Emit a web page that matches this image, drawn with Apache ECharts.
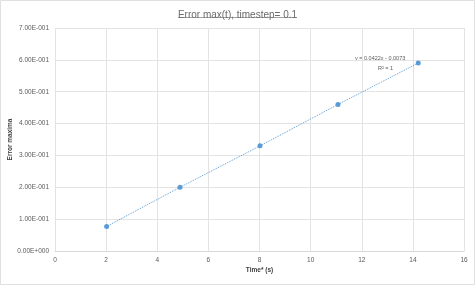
<!DOCTYPE html>
<html><head><meta charset="utf-8">
<script src="https://cdn.jsdelivr.net/npm/echarts@6/dist/echarts.min.js"></script>
<style>html,body{margin:0;padding:0;background:#fff}#c{width:475px;height:285px}</style>
</head><body><div id="c"></div>
<script>
var timeValues = [2.02, 4.89, 8.02, 11.07, 14.21];
var errorValues = [0.077, 0.200, 0.330, 0.460, 0.590];
var titleText = 'Error max(t), timestep= 0.1';
var xName = 'Time* (s)';
var yName = 'Error maxima';
var trendLines = ['y = 0.0422x - 0.0073', 'R\u00b2 = 1'];

function sci(v){
  var s = Number(v).toExponential(2);
  var m = s.split('e');
  var exp = parseInt(m[1],10);
  var sign = exp < 0 ? '-' : '+';
  var e = String(Math.abs(exp)); while(e.length<3) e='0'+e;
  return m[0] + 'E' + sign + e;
}
var pts = timeValues.map(function(x,i){return [x, errorValues[i]];});
var chart = echarts.init(document.getElementById('c'));
chart.setOption({
  animation:false,
  title:{text:titleText,left:'center',top:5,textStyle:{fontFamily:'Liberation Sans',fontSize:10,fontWeight:'normal',color:'#6b6b6b'}},
  grid:{left:55,right:11,top:28,bottom:34,outerBoundsMode:'none',containLabel:false},
  xAxis:{type:'value',min:0,max:16,interval:2,name:xName,nameLocation:'middle',nameGap:16,nameMoveOverlap:false,
    nameTextStyle:{fontFamily:'Liberation Sans',fontSize:6.5,fontWeight:'bold',color:'#404040'},
    axisLine:{show:true,lineStyle:{color:'#d9d9d9'}},axisTick:{show:false},
    axisLabel:{fontFamily:'Liberation Sans',fontSize:6.5,color:'#595959',margin:6},
    splitLine:{show:true,lineStyle:{color:'#e3e3e3',width:1}}},
  yAxis:{type:'value',min:0,max:0.7,interval:0.1,name:yName,nameLocation:'middle',nameGap:41,nameMoveOverlap:false,
    nameTextStyle:{fontFamily:'Liberation Sans',fontSize:6.5,fontWeight:'bold',color:'#404040'},
    axisLine:{show:false},axisTick:{show:false},
    axisLabel:{fontFamily:'Liberation Sans',fontSize:6.5,color:'#595959',margin:6,formatter:sci},
    splitLine:{show:true,lineStyle:{color:'#e3e3e3',width:1}}},
  series:[{type:'line',data:pts,symbol:'circle',symbolSize:5,
    itemStyle:{color:'#5b9bd5'},lineStyle:{color:'#5b9bd5',width:1,type:[1,1]}}],
  graphic:[
    {type:'line',shape:{x1:178,y1:17.5,x2:297,y2:17.5},style:{stroke:'#8c8c8c',lineWidth:0.8}},
    {type:'text',left:355,top:55,style:{text:trendLines[0],fontFamily:'Liberation Sans',fontSize:5.5,fill:'#595959'}},
    {type:'text',left:378,top:65,style:{text:trendLines[1],fontFamily:'Liberation Sans',fontSize:5.5,fill:'#595959'}},
    {type:'rect',shape:{x:0.5,y:0.5,width:474,height:284},style:{fill:'none',stroke:'#e0e0e0',lineWidth:1}}
  ]
});
</script></body></html>
